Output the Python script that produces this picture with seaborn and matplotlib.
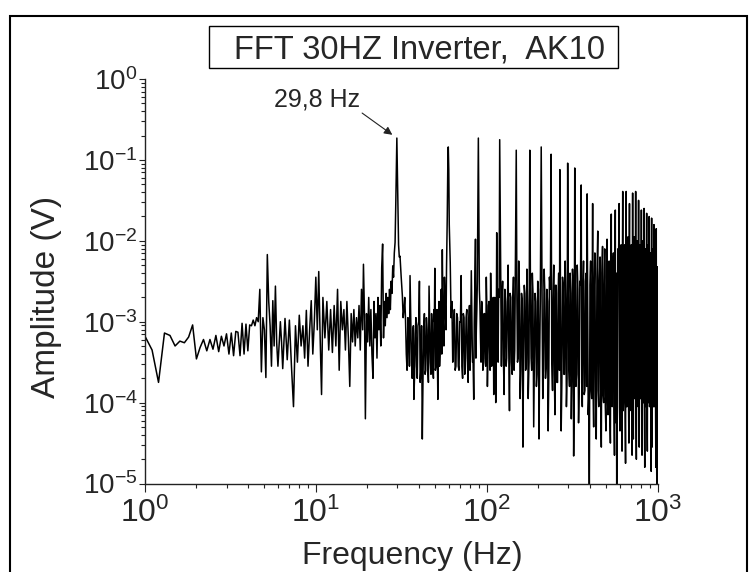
import numpy as np
import pandas as pd
import matplotlib
matplotlib.use("Agg")
import matplotlib.pyplot as plt
from matplotlib.patches import Rectangle
from matplotlib.ticker import LogLocator, NullFormatter
import seaborn as sns

# spectrum: frequency (Hz) and log10 of amplitude (V)
freq_1_10 = [1.0, 1.1, 1.2, 1.3, 1.4, 1.5, 1.6, 1.7, 1.8, 1.9,
             2.0, 2.1, 2.2, 2.3, 2.4, 2.5, 2.6, 2.7, 2.8, 2.9,
             3.0, 3.1, 3.2, 3.3, 3.4, 3.5, 3.6, 3.7, 3.8, 3.9,
             4.0, 4.1, 4.2, 4.3, 4.4, 4.5, 4.6, 4.7, 4.8, 4.9,
             5.0, 5.1, 5.2, 5.3, 5.4, 5.5, 5.6, 5.7, 5.8, 5.9,
             6.0, 6.2, 6.3, 6.4, 6.6, 6.8, 7.0, 7.2, 7.4, 7.6,
             7.8, 8.0, 8.2, 8.4, 8.6, 8.8, 9.0, 9.2, 9.4, 9.6, 9.8]
logamp_1_10 = [-3.18, -3.35, -3.75, -3.14, -3.17, -3.30, -3.24, -3.26, -3.19, -3.04,
               -3.46, -3.32, -3.22, -3.36, -3.22, -3.34, -3.17, -3.37, -3.18, -3.30,
               -3.15, -3.40, -3.14, -3.42, -3.12, -3.13, -3.42, -3.02, -3.40, -3.03,
               -3.36, -3.04, -3.05, -2.98, -3.05, -2.95, -3.00, -2.60, -3.62, -2.95,
               -3.10, -3.69, -2.17, -2.75, -3.05, -3.55, -2.74, -3.30, -2.56, -3.26,
               -3.55, -3.00, -3.25, -3.58, -2.96, -3.47, -2.98, -3.55, -4.05, -3.05,
               -3.50, -2.92, -3.30, -3.05, -3.45, -2.86, -3.55, -3.10, -2.74, -3.40, -3.00]

freq_10_30 = [10.0, 10.2, 10.4, 10.6, 10.8, 11.0, 11.3, 11.6, 11.9, 12.2,
              12.5, 12.8, 13.1, 13.4, 13.7, 14.0, 14.3, 14.6, 14.9, 15.2,
              15.5, 15.8, 16.1, 16.4, 16.7, 17.0, 17.3, 17.6, 17.9, 18.2,
              18.5, 18.8, 19.0, 19.3, 19.5, 19.8, 20.1, 20.4, 20.7, 21.0,
              21.3, 21.6, 21.9, 22.2, 22.5, 22.8, 23.1, 23.4, 23.7, 24.0,
              24.3, 24.6, 24.9, 25.2, 25.5, 25.8, 26.1, 26.4, 26.7, 27.0,
              27.3, 27.6, 27.9, 28.2, 28.5, 28.8, 29.1, 29.4, 29.6, 29.8,
              30.0, 30.2, 30.5, 30.8]
logamp_10_30 = [-2.45, -3.10, -2.38, -3.20, -3.90, -2.70, -3.20, -2.75, -3.35, -2.85,
                -3.38, -2.80, -3.30, -2.60, -3.60, -2.75, -3.10, -2.85, -3.35, -2.75,
                -3.20, -3.80, -2.90, -3.25, -2.85, -3.30, -2.95, -3.20, -2.80, -3.35,
                -2.60, -3.10, -2.29, -3.00, -4.20, -2.90, -3.25, -2.70, -3.30, -2.85,
                -3.40, -3.70, -2.75, -3.20, -2.90, -3.45, -2.70, -3.10, -2.80, -3.30,
                -2.33, -2.04, -3.20, -2.75, -3.05, -2.65, -2.95, -2.70, -2.90, -2.60,
                -2.85, -2.50, -2.65, -2.31, -2.45, -2.15, -2.02, -1.50, -1.08, -0.73,
                -1.10, -1.55, -2.05, -2.20]

freq_30_120 = [31.1, 32.1, 32.8, 33.5, 34.2, 35.0, 35.6, 36.3, 37.0, 37.5,
               38.2, 38.9, 39.6, 40.4, 41.2, 42.0, 42.8, 43.6, 44.4, 45.2,
               46.0, 46.8, 47.6, 48.4, 49.2, 49.7, 50.5, 51.2, 51.8, 52.6,
               53.4, 54.2, 55.0, 55.8, 56.6, 57.4, 58.2, 58.8, 59.2, 59.6,
               60.0, 60.4, 61.2, 62.6, 64.0, 65.4, 66.8, 68.2, 69.6, 70.9,
               72.3, 73.7, 75.1, 76.5, 77.9, 79.3, 80.5, 81.3, 82.6, 84.0,
               85.2, 86.0, 87.0, 88.2, 89.4, 90.6, 92.0, 93.5, 95.0, 96.5,
               98.0, 99.5, 101.0, 102.5, 104.0, 105.5, 107.0, 108.5, 110.0, 111.5,
               113.0, 114.5, 116.0, 117.5, 119.2, 121.0]
logamp_30_120 = [-2.19, -2.68, -2.85, -2.98, -3.60, -3.10, -2.43, -3.50, -3.10, -3.96,
                 -3.15, -3.55, -3.05, -2.50, -3.60, -4.45, -3.10, -3.65, -2.95, -3.55,
                 -2.56, -3.50, -2.90, -3.60, -2.85, -2.34, -3.55, -2.85, -3.96, -2.75,
                 -3.35, -2.60, -2.11, -3.05, -2.45, -2.90, -2.35, -1.70, -1.10, -0.84,
                 -1.12, -1.80, -2.27, -2.75, -3.05, -3.60, -2.90, -3.55, -3.00, -2.43,
                 -3.70, -2.95, -3.45, -2.85, -3.75, -2.80, -3.30, -2.37, -3.50, -3.96,
                 -2.60, -1.98, -3.10, -2.50, -0.73, -2.60, -3.20, -2.75, -3.60, -2.90,
                 -3.50, -2.45, -3.80, -2.80, -3.30, -2.40, -3.55, -2.85, -3.90, -2.70,
                 -4.00, -1.90, -3.20, -2.60, -0.75, -2.50]

# in-between bins of the dark noise band, 30 - 120 Hz
freq_core_30_120 = [31.6, 32.45, 33.15, 33.85, 34.6, 35.3, 35.95, 36.65, 37.25, 37.85,
                    38.55, 39.25, 40.0, 40.8, 41.6, 42.4, 43.2, 44.0, 44.8, 45.6,
                    46.4, 47.2, 48.0, 48.8, 49.45, 50.1, 50.85, 51.5, 52.2, 53.0,
                    53.8, 54.6, 55.4, 56.2, 57.0, 57.8, 61.9, 63.3, 64.7, 66.1,
                    67.5, 68.9, 70.2, 71.6, 73.0, 74.4, 75.8, 77.2, 78.6, 79.9,
                    81.9, 83.3, 84.6, 86.5, 87.6, 91.3, 92.7, 94.2, 95.7, 97.2,
                    98.7, 100.2, 101.7, 103.2, 104.7, 106.2, 107.7, 109.2, 110.7, 112.2,
                    113.7, 115.2, 116.7, 118.3]
logamp_core_30_120 = [-2.45, -2.95, -2.70, -3.40, -2.95, -3.55, -3.00, -3.70, -3.05, -3.65,
                      -2.95, -3.70, -3.00, -3.75, -3.05, -3.70, -2.90, -3.60, -3.10, -3.75,
                      -3.00, -3.65, -3.05, -3.70, -3.00, -3.60, -3.05, -3.50, -3.00, -3.55,
                      -2.85, -3.40, -2.80, -3.30, -2.70, -3.10, -2.95, -3.50, -2.85, -3.55,
                      -2.95, -3.60, -3.00, -3.55, -2.90, -3.65, -2.95, -3.50, -3.00, -3.60,
                      -2.90, -3.50, -3.00, -3.45, -2.85, -2.80, -3.50, -2.85, -3.45, -2.90,
                      -3.55, -2.80, -3.45, -2.75, -3.60, -2.85, -3.40, -2.70, -3.55, -2.80,
                      -3.45, -2.75, -3.50, -2.70]

# extremes of the noise floor between the harmonics, 120 Hz - 1 kHz
freq_dense = [122, 124, 126.5, 129, 131, 133.5, 136, 138.5, 141, 143.5,
              146, 151.5, 154, 157, 160, 163, 166, 169, 172, 175,
              182, 185, 188.5, 192, 195.5, 199, 202.5, 206, 213, 217,
              221, 225, 229, 233, 243, 247, 251, 255, 260, 264,
              273, 278, 283, 288, 293, 303, 308, 313, 318, 323,
              333, 339, 345, 351, 363, 369, 376, 382, 393, 399,
              406, 412, 423, 430, 438, 453, 461, 469, 484, 491,
              499, 513, 521, 530, 543, 552, 560, 572, 577, 586,
              603, 612, 620, 633, 642, 650, 663, 673, 680, 692,
              702, 710, 722, 732, 740, 752, 762, 770, 782, 792,
              800, 812, 822, 830, 842, 852, 858, 872, 882, 889,
              902, 912, 919, 930, 940, 948, 960, 970, 978, 990,
              996, 1000]
logamp_dense = [-3.55, -2.50, -3.90, -2.75, -3.45, -2.30, -4.10, -2.70, -3.65, -2.45,
                -3.35, -3.50, -2.25, -3.95, -2.65, -4.55, -2.55, -3.60, -2.35, -3.95,
                -3.45, -2.40, -4.30, -2.65, -3.80, -2.50, -4.45, -2.75, -3.95, -2.35,
                -3.70, -2.60, -4.35, -2.45, -3.85, -2.30, -4.15, -2.55, -3.75, -2.40,
                -4.35, -2.45, -3.65, -2.25, -4.05, -3.60, -2.40, -4.20, -2.35, -4.66,
                -3.80, -2.30, -4.25, -2.50, -4.05, -2.25, -3.85, -2.40, -4.15, -5.10,
                -2.25, -3.95, -4.30, -2.15, -4.45, -4.05, -2.20, -4.55, -4.00, -2.10,
                -4.35, -4.15, -2.25, -4.50, -4.05, -2.15, -4.65, -4.25, -5.10, -2.10,
                -4.35, -2.05, -4.60, -3.95, -2.05, -4.75, -4.05, -1.95, -4.50, -3.90,
                -2.05, -4.65, -4.45, -1.95, -3.95, -4.70, -2.00, -4.05, -4.55, -2.05,
                -3.95, -4.65, -2.00, -4.00, -4.80, -2.10, -4.05, -4.60, -2.05, -3.95,
                -4.00, -2.15, -4.85, -4.55, -2.10, -4.05, -4.00, -2.20, -4.80, -4.90,
                -5.10, -2.32]

# in-between bins of the dark noise band, 120 Hz - 1 kHz
freq_core_dense = [123, 125.2, 127.7, 130, 132.2, 134.7, 137.2, 139.7, 142.2, 144.7,
                   150.3, 152.7, 155.5, 158.5, 161.5, 164.5, 167.5, 170.5, 173.5, 177,
                   180.5, 183.5, 186.7, 190.2, 193.7, 197.2, 200.7, 204.2, 211, 215,
                   219, 223, 227, 231, 236, 240.5, 245, 249, 253, 257.5,
                   262, 266.5, 270.5, 275.5, 280.5, 285.5, 290.5, 295.5, 300.5, 305.5,
                   310.5, 315.5, 320.5, 325.5, 330.5, 336, 342, 348, 354, 360,
                   366, 372.5, 379, 385, 390, 396, 402.5, 409, 415, 420,
                   426.5, 434, 442, 449.5, 457, 465, 473, 480, 487.5, 495,
                   503, 510, 517, 525.5, 533.5, 540, 547.5, 556, 563.5, 569,
                   574.5, 581.5, 591, 599, 607.5, 616, 623, 629.5, 637.5, 646,
                   653, 659.5, 668, 676.5, 683, 688.5, 697, 706, 713, 718.5,
                   727, 736, 743, 748.5, 757, 766, 772.5, 778.5, 787, 796,
                   802.5, 808.5, 817, 826, 832.5, 838, 847, 855, 861, 868,
                   877, 885.5, 891.5, 898, 907, 915.5, 921.5, 927, 935, 944,
                   951, 957, 965, 974, 981, 986.5, 993, 998]
logamp_core_dense = [-2.70, -3.40, -2.60, -3.55, -2.80, -3.35, -2.65, -3.50, -2.75, -3.60,
                     -2.70, -3.45, -2.60, -3.60, -2.75, -3.40, -2.65, -3.55, -2.80, -3.50,
                     -2.70, -3.60, -2.65, -3.45, -2.75, -3.65, -2.60, -3.50, -2.70, -3.60,
                     -2.65, -3.55, -2.75, -3.70, -2.60, -3.50, -2.70, -3.65, -2.55, -3.75,
                     -2.65, -3.60, -2.70, -3.75, -2.55, -3.65, -2.75, -3.70, -2.60, -3.80,
                     -2.65, -3.70, -2.55, -3.85, -2.70, -3.65, -2.60, -3.80, -2.55, -3.75,
                     -2.60, -3.90, -2.50, -3.80, -2.65, -3.95, -2.55, -3.85, -2.45, -3.90,
                     -2.55, -3.95, -2.45, -3.85, -2.50, -4.00, -2.40, -3.90, -2.55, -4.05,
                     -2.45, -3.95, -2.40, -4.05, -2.50, -3.90, -2.35, -4.00, -2.45, -4.10,
                     -2.40, -3.95, -2.35, -4.05, -2.30, -3.90, -2.40, -4.10, -2.30, -4.00,
                     -2.35, -4.05, -2.25, -3.95, -2.30, -4.10, -2.25, -4.00, -2.35, -4.05,
                     -2.25, -3.95, -2.30, -4.10, -2.20, -4.00, -2.30, -4.05, -2.25, -3.95,
                     -2.30, -4.10, -2.25, -4.00, -2.35, -4.05, -2.25, -3.95, -2.30, -4.10,
                     -2.25, -4.00, -2.35, -4.05, -2.30, -3.95, -2.40, -4.10, -2.30, -4.00,
                     -2.40, -4.05, -2.35, -3.95, -2.45, -4.10, -2.40, -4.00]

# harmonics of the 29,8 Hz fundamental
freq_harm = [149.0, 178.8, 208.6, 238.4, 268.2, 298.0, 327.8, 357.6, 387.4, 417.2,
             447.0, 476.8, 506.6, 536.4, 566.2, 596.0, 625.8, 655.6, 685.4, 715.2,
             745.0, 774.8, 804.6, 834.4, 864.2, 894.0, 923.8, 953.6, 983.4]
logamp_harm = [-0.88, -0.88, -0.84, -0.93, -1.12, -1.04, -1.10, -1.31, -1.42, -1.54,
               -1.88, -2.07, -1.98, -1.67, -1.62, -1.54, -1.39, -1.39, -1.54, -1.41,
               -1.39, -1.50, -1.62, -1.60, -1.66, -1.70, -1.72, -1.80, -1.85]

peak_freq = 29.8
peak_logamp = -0.73

parts = [
    pd.DataFrame({"freq": freq_1_10, "logamp": logamp_1_10}),
    pd.DataFrame({"freq": freq_10_30, "logamp": logamp_10_30}),
    pd.DataFrame({"freq": freq_30_120, "logamp": logamp_30_120}),
    pd.DataFrame({"freq": freq_core_30_120, "logamp": logamp_core_30_120}),
    pd.DataFrame({"freq": freq_dense, "logamp": logamp_dense}),
    pd.DataFrame({"freq": freq_core_dense, "logamp": logamp_core_dense}),
    pd.DataFrame({"freq": freq_harm, "logamp": logamp_harm}),
]
df = pd.concat(parts, ignore_index=True).sort_values("freq")
df["amp"] = 10.0 ** df["logamp"]

sns.set_style("ticks")
plt.rcParams["font.family"] = ["Liberation Sans", "DejaVu Sans"]
plt.rcParams["mathtext.fontset"] = "custom"
plt.rcParams["mathtext.rm"] = "Liberation Sans"
plt.rcParams["mathtext.it"] = "Liberation Sans:italic"
plt.rcParams["mathtext.bf"] = "Liberation Sans:bold"
plt.rcParams["mathtext.default"] = "regular"

W, H = 751, 572
fig = plt.figure(figsize=(W / 100, H / 100), dpi=100)
ax = fig.add_axes([145 / W, 1 - 483.5 / H, 512.5 / W, 404.5 / H])

sns.lineplot(data=df, x="freq", y="amp", ax=ax, color="black",
             linewidth=1.1, estimator=None, sort=False)

ax.set_xscale("log")
ax.set_yscale("log")
ax.set_xlim(1, 1000)
ax.set_ylim(1e-5, 1)
ax.xaxis.set_major_locator(LogLocator(base=10, numticks=10))
ax.xaxis.set_minor_locator(LogLocator(base=10, subs=np.arange(2, 10), numticks=40))
ax.yaxis.set_major_locator(LogLocator(base=10, numticks=10))
ax.yaxis.set_minor_locator(LogLocator(base=10, subs=np.arange(2, 10), numticks=60))
ax.xaxis.set_minor_formatter(NullFormatter())
ax.yaxis.set_minor_formatter(NullFormatter())

sns.despine(ax=ax)
for side in ("left", "bottom"):
    ax.spines[side].set_linewidth(1.0)
    ax.spines[side].set_color("#222222")

ax.tick_params(axis="x", which="major", direction="out", length=6, width=0.8,
               labelsize=23, pad=4, color="#222222")
ax.tick_params(axis="x", which="minor", direction="out", length=3.2, width=0.8,
               color="#222222")
ax.tick_params(axis="y", which="major", direction="out", length=4.5, width=0.8,
               labelsize=20, pad=1, color="#222222")
ax.tick_params(axis="y", which="minor", direction="out", length=3, width=0.8,
               color="#222222")

ax.set_xlabel("Frequency (Hz)", fontsize=23)
ax.xaxis.set_label_coords(0.521, -0.141)
ax.set_ylabel("Amplitude (V)", fontsize=24)
ax.yaxis.set_label_coords(-0.162, 0.462)

# peak marker
peak_amp = 10.0 ** peak_logamp
ax.annotate("", xy=(peak_freq, peak_amp), xytext=(-25, 18), textcoords="offset points",
            arrowprops=dict(arrowstyle="-|>", color="#222222", lw=0.8,
                            shrinkA=0, shrinkB=4, mutation_scale=12))
ax.annotate("29,8 Hz", xy=(peak_freq, peak_amp), xytext=(-88.5, 27.6),
            textcoords="offset points", ha="left", va="center", fontsize=18)

# boxed title
fig.add_artist(Rectangle((209 / W, 1 - 67.5 / H), 409 / W, 41.5 / H,
                         transform=fig.transFigure, fill=False, ec="black", lw=1.0))
fig.text(419 / W, 1 - 58.4 / H, "FFT 30HZ Inverter,  AK10", ha="center",
         va="baseline", fontsize=23.5)

# outer frame
fig.add_artist(Rectangle((10 / W, -0.05), 737 / W, 1 - 16 / H + 0.05,
                         transform=fig.transFigure, fill=False, ec="black", lw=1.5))

fig.savefig("out.png", dpi=100)
